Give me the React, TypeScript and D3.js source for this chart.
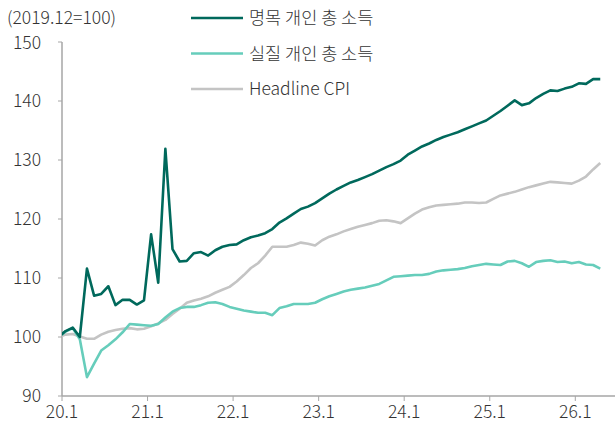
import React from "react"
import * as d3 from "d3"

// months since Dec 2019 (index 0 = 2019.12 = 100)
const nominal = [
    100, 101.0, 101.6, 100.0, 111.6, 107.0, 107.3, 108.6, 105.4, 106.3, 106.3, 105.5, 106.2,
    117.4, 109.2, 131.9, 114.9, 112.8, 112.9, 114.2, 114.4, 113.8, 114.7, 115.3, 115.6,
    115.7, 116.4, 116.9, 117.2, 117.6, 118.3, 119.4, 120.1, 120.9, 121.7, 122.1, 122.7,
    123.5, 124.3, 125.0, 125.6, 126.2, 126.6, 127.1, 127.6, 128.2, 128.8, 129.3, 129.9,
    130.9, 131.6, 132.3, 132.8, 133.4, 133.9, 134.3, 134.7, 135.2, 135.7, 136.2, 136.7,
    137.5, 138.3, 139.2, 140.1, 139.3, 139.6, 140.5, 141.2, 141.8, 141.7, 142.1, 142.4,
    143.0, 142.9, 143.7, 143.7,
]
const real = [
    100, 100.9, 101.5, 99.6, 93.2, 95.5, 97.7, 98.6, 99.6, 100.8, 102.2, 102.1, 102.0,
    101.9, 102.2, 103.3, 104.3, 104.9, 105.1, 105.1, 105.4, 105.8, 105.9, 105.6, 105.1,
    104.8, 104.5, 104.3, 104.1, 104.1, 103.7, 104.9, 105.2, 105.6, 105.6, 105.6, 105.8,
    106.4, 106.9, 107.3, 107.7, 108.0, 108.2, 108.4, 108.7, 109.0, 109.6, 110.2, 110.3,
    110.4, 110.5, 110.5, 110.7, 111.1, 111.3, 111.4, 111.5, 111.7, 112.0, 112.2, 112.4,
    112.3, 112.2, 112.8, 112.9, 112.5, 111.9, 112.7, 112.9, 113.0, 112.7, 112.8, 112.5,
    112.7, 112.3, 112.2, 111.6,
]
const cpi = [
    100, 100.4, 100.5, 100.1, 99.7, 99.7, 100.4, 100.9, 101.2, 101.4, 101.5, 101.3, 101.4,
    101.8, 102.3, 102.9, 103.9, 104.8, 105.8, 106.2, 106.5, 106.9, 107.5, 108.0, 108.5,
    109.4, 110.5, 111.7, 112.5, 113.8, 115.3, 115.3, 115.3, 115.6, 116.0, 115.8, 115.5,
    116.4, 117.0, 117.4, 117.9, 118.3, 118.7, 119.0, 119.3, 119.7, 119.8, 119.6, 119.3,
    120.1, 120.9, 121.6, 122.0, 122.3, 122.4, 122.5, 122.6, 122.8, 122.8, 122.7, 122.8,
    123.4, 124.0, 124.3, 124.6, 125.0, 125.4, 125.7, 126.0, 126.3, 126.2, 126.1, 126.0,
    126.5, 127.2, 128.4, 129.5,
]

const seriesNames = ["명목 개인 총 소득", "실질 개인 총 소득", "Headline CPI"]
const seriesColors = ["#00695c", "#66cdbb", "#c4c4c4"]
const xTickLabels = ["20.1", "21.1", "22.1", "23.1", "24.1", "25.1", "26.1"]
const yTicks = [90, 100, 110, 120, 130, 140, 150]

const W = 615
const H = 429
const font = "'Noto Sans CJK KR', 'Noto Sans', sans-serif"
const textColor = "#333"
const axisColor = "#a6a6a6"

export default function App() {
    const left = 62
    const bottom = 396
    const top = 42
    const right = W

    // months since Jan 2020 -> px
    const x = d3.scaleLinear().domain([0, 72]).range([left, 575.3])
    const y = d3.scaleLinear().domain([90, 150]).range([bottom, top])

    // point i sits in the middle of month (i - 1)
    const line = d3.line<number>()
        .x((_, i) => x(i - 1 + 0.5))
        .y((d) => y(d))

    const all = [nominal, real, cpi]

    return (
        <svg width={W} height={H} style={{ position: "absolute", left: 0, top: 0, background: "#fff" }}
            fontFamily={font} fontWeight={300}>
            <defs>
                <clipPath id="plot">
                    <rect x={left} y={0} width={right - left} height={bottom} />
                </clipPath>
            </defs>

            <text x={7} y={24} fontSize={17.5} fill={textColor}>(2019.12=100)</text>

            {/* y axis */}
            <line x1={left} x2={left} y1={top} y2={bottom} stroke={axisColor} strokeWidth={1.5} />
            {yTicks.map((t) => (
                <g key={t}>
                    <line x1={left - 4} x2={left} y1={y(t)} y2={y(t)} stroke={axisColor} strokeWidth={1} />
                    <text x={41} y={y(t) + (t === 150 ? 1 : 0)} dy="0.35em" textAnchor="end" fontSize={17.5} fill={textColor}>{t}</text>
                </g>
            ))}

            {/* x axis */}
            <line x1={left} x2={right} y1={bottom} y2={bottom} stroke={axisColor} strokeWidth={1.5} />
            {xTickLabels.map((lab, k) => (
                <g key={lab}>
                    <line x1={x(k * 12)} x2={x(k * 12)} y1={bottom} y2={bottom + 5} stroke={axisColor} strokeWidth={1} />
                    <text x={x(k * 12)} y={bottom + 22} textAnchor="middle" fontSize={17.5} fill={textColor}>{lab}</text>
                </g>
            ))}

            <g clipPath="url(#plot)">
                {[2, 1, 0].map((s) => (
                    <path key={s} d={line(all[s]) ?? ""} fill="none" stroke={seriesColors[s]}
                        strokeWidth={2.6} strokeLinejoin="round" />
                ))}
            </g>

            {/* legend */}
            {seriesNames.map((name, s) => (
                <g key={name} transform={`translate(191,${18 + s * 35.5})`}>
                    <line x1={0} x2={52} y1={0} y2={0} stroke={seriesColors[s]} strokeWidth={2.6} />
                    <text x={58} y={0} dy="0.35em" fontSize={17.5} fill={textColor}>{name}</text>
                </g>
            ))}
        </svg>
    )
}
